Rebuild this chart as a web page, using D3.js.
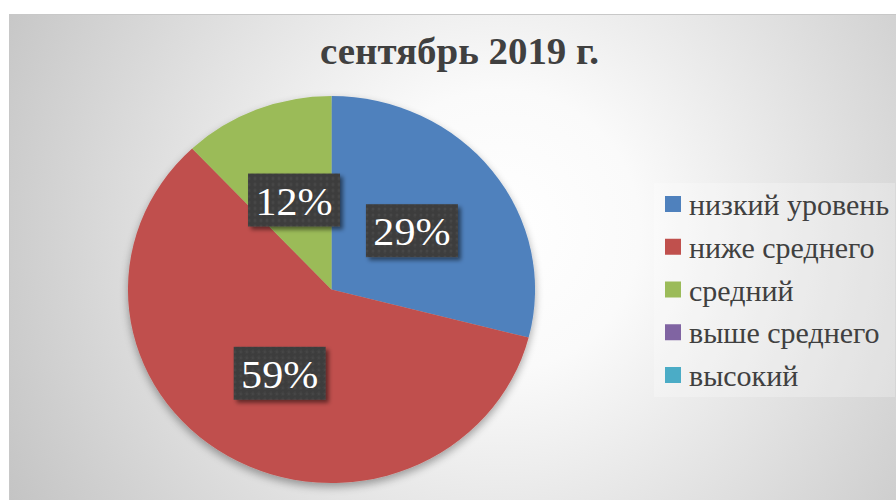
<!DOCTYPE html>
<html>
<head>
<meta charset="utf-8">
<script src="https://cdn.jsdelivr.net/npm/d3@7"></script>
<style>
  html, body { margin: 0; padding: 0; background: #fff; }
  svg { display: block; }
</style>
</head>
<body>
<div id="chart"></div>
<script>
// données
const titre = "сентябрь 2019 г.";
const categories = ["низкий уровень", "ниже среднего", "средний", "выше среднего", "высокий"];
const valeurs = [29, 59, 12, 0, 0];
const couleurs = ["#4f81bd", "#c0504d", "#9bbb59", "#8064a2", "#4bacc6"];

const W = 896, H = 500;
// l'original est légèrement étiré horizontalement
const sx = 1.052;

const svg = d3.select("#chart").append("svg")
    .attr("width", W)
    .attr("height", H);

const defs = svg.append("defs");

// fond dégradé radial
const grad = defs.append("radialGradient")
    .attr("id", "fond")
    .attr("gradientUnits", "userSpaceOnUse")
    .attr("cx", 500).attr("cy", 230).attr("r", 560);
grad.append("stop").attr("offset", "0").attr("stop-color", "#ffffff");
grad.append("stop").attr("offset", "0.25").attr("stop-color", "#fafafa");
grad.append("stop").attr("offset", "1").attr("stop-color", "#c4c4c4");

// ombre du camembert
const ombre = defs.append("filter").attr("id", "ombre")
    .attr("x", "-20%").attr("y", "-20%").attr("width", "140%").attr("height", "140%");
ombre.append("feGaussianBlur").attr("in", "SourceAlpha").attr("stdDeviation", 4);
ombre.append("feOffset").attr("dx", 0).attr("dy", 4).attr("result", "b");
ombre.append("feComponentTransfer").append("feFuncA").attr("type", "linear").attr("slope", 0.35);
const m1 = ombre.append("feMerge");
m1.append("feMergeNode");
m1.append("feMergeNode").attr("in", "SourceGraphic");

// ombre des étiquettes
const ombre2 = defs.append("filter").attr("id", "ombre2")
    .attr("x", "-20%").attr("y", "-20%").attr("width", "150%").attr("height", "150%");
ombre2.append("feGaussianBlur").attr("in", "SourceAlpha").attr("stdDeviation", 2);
ombre2.append("feOffset").attr("dx", 3).attr("dy", 3);
ombre2.append("feComponentTransfer").append("feFuncA").attr("type", "linear").attr("slope", 0.5);
const m2 = ombre2.append("feMerge");
m2.append("feMergeNode");
m2.append("feMergeNode").attr("in", "SourceGraphic");

// motif pointillé des étiquettes
const motif = defs.append("pattern").attr("id", "points")
    .attr("patternUnits", "userSpaceOnUse")
    .attr("width", 6).attr("height", 6);
motif.append("rect").attr("width", 6).attr("height", 6).attr("fill", "#3e3e3e");
motif.append("circle").attr("cx", 3).attr("cy", 3).attr("r", 1.4).attr("fill", "#474747");

// zone du graphique
svg.append("rect")
    .attr("x", 9.5).attr("y", 14.5)
    .attr("width", W).attr("height", H)
    .attr("fill", "url(#fond)")
    .attr("stroke", "#c8c8c8")
    .attr("stroke-width", 1);

// titre
svg.append("text")
    .attr("transform", `translate(459.5,64) scale(${sx},1)`)
    .attr("text-anchor", "middle")
    .attr("font-family", "Liberation Serif, serif")
    .attr("font-weight", "bold")
    .attr("font-size", 37)
    .attr("fill", "#404040")
    .text(titre);

// camembert
const cx = 331.5, cy = 289.5, r = 193.5;

const pie = d3.pie().sort(null).value(d => d)(valeurs);
const arc = d3.arc().innerRadius(0).outerRadius(r);

const gPie = svg.append("g")
    .attr("transform", `translate(${cx},${cy}) scale(${sx},1)`)
    .attr("filter", "url(#ombre)");

gPie.selectAll("path")
    .data(pie.filter(d => d.value > 0))
    .enter()
    .append("path")
    .attr("d", arc)
    .attr("fill", d => couleurs[d.index]);

// étiquettes
const gLab = svg.append("g").attr("transform", `translate(${cx},${cy})`);
const labels = gLab.selectAll("g")
    .data(pie.filter(d => d.value > 0))
    .enter()
    .append("g")
    .attr("transform", d => {
        const c = arc.centroid(d);
        return `translate(${c[0] * sx},${c[1]})`;
    });

labels.append("rect")
    .attr("x", -46).attr("y", -26)
    .attr("width", 92).attr("height", 53)
    .attr("fill", "url(#points)")
    .attr("filter", "url(#ombre2)");

labels.append("text")
    .attr("text-anchor", "middle")
    .attr("transform", `translate(0,15) scale(${sx},1)`)
    .attr("font-family", "Liberation Serif, serif")
    .attr("font-size", 40)
    .attr("fill", "#ffffff")
    .text(d => d.value + "%");

// légende
svg.append("rect")
    .attr("x", 654).attr("y", 183)
    .attr("width", 241).attr("height", 214)
    .attr("fill", "#ffffff")
    .attr("fill-opacity", 0.25);

const yLeg = d3.scalePoint()
    .domain(categories)
    .range([204, 375]);

const leg = svg.append("g").selectAll("g")
    .data(categories)
    .enter()
    .append("g")
    .attr("transform", d => `translate(665,${yLeg(d)})`);

leg.append("rect")
    .attr("x", 0).attr("y", -8)
    .attr("width", 16).attr("height", 16)
    .attr("fill", (d, i) => couleurs[i]);

leg.append("text")
    .attr("transform", `translate(24,11) scale(${sx},1)`)
    .attr("font-family", "Liberation Serif, serif")
    .attr("font-size", 28.5)
    .attr("fill", "#404040")
    .text(d => d);
</script>
</body>
</html>
